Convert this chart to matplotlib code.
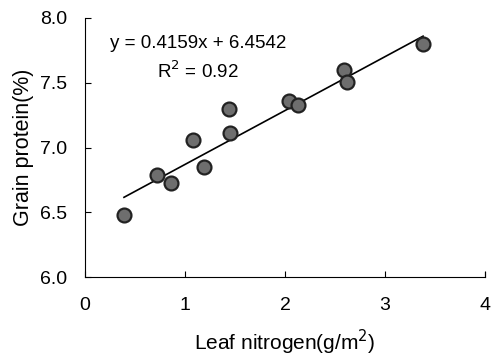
import numpy as np
import matplotlib.pyplot as plt

plt.rcParams['font.family'] = ['Liberation Sans', 'DejaVu Sans']

# leaf nitrogen (g/m2) vs grain protein (%)
leaf_n = [0.39, 0.72, 0.86, 1.08, 1.19, 1.44, 1.45, 2.04, 2.13, 2.59, 2.62, 3.38]
grain_protein = [6.48, 6.79, 6.73, 7.06, 6.85, 7.30, 7.11, 7.36, 7.33, 7.60, 7.51, 7.80]

slope = 0.4159
intercept = 6.4542
r_sq = 0.92

fig = plt.figure(figsize=(4.94, 3.60), dpi=100)
ax = fig.add_axes([0.172, 0.23, 0.81, 0.72])

xfit = np.array([min(leaf_n), max(leaf_n)])
ax.plot(xfit, slope * xfit + intercept, '-', color='black', lw=1.2, zorder=2)
ax.plot(leaf_n, grain_protein, 'o', ms=10, mfc='#6e6e6e', mec='#222222', mew=1.6, zorder=3)

ax.text(0.25, 7.80, f'y = {slope}x + {intercept}', fontsize=13.5, va='center', ha='left')
ax.text(1.13, 7.59, f'R$^2$ = {r_sq}', fontsize=13.5, va='center', ha='center')

ax.set_xlim(0, 4)
ax.set_ylim(6.0, 8.0)
ax.set_xticks([0, 1, 2, 3, 4])
ax.set_yticks([6.0, 6.5, 7.0, 7.5, 8.0])
ax.set_yticklabels(['6.0', '6.5', '7.0', '7.5', '8.0'])
ax.tick_params(direction='in', length=4, labelsize=14)
ax.tick_params(axis='x', pad=14)
ax.tick_params(axis='y', pad=13)
ax.spines['top'].set_visible(False)
ax.spines['right'].set_visible(False)
# short tick at the right end of the x axis
ax.plot([4, 4], [6.0, 6.04], color='black', lw=0.8, clip_on=False)

ax.set_xlabel('Leaf nitrogen(g/m$^2$)', fontsize=15, labelpad=10)
ax.set_ylabel('Grain protein(%)', fontsize=15.5, labelpad=4)

fig.savefig('out.png', dpi=100)
